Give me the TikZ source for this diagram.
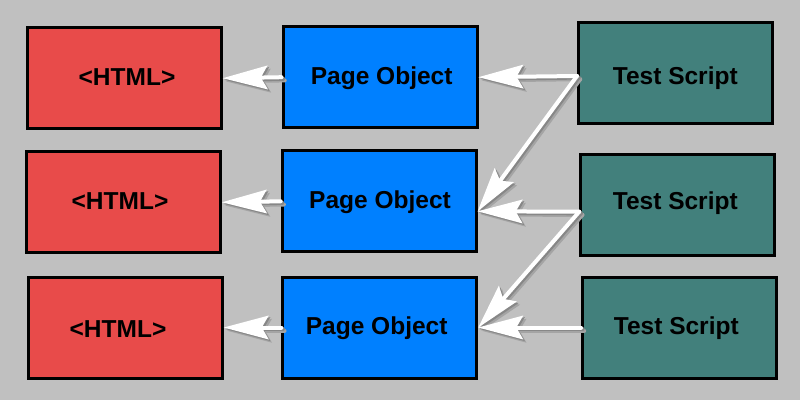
\documentclass[tikz,border=0pt]{standalone}
\usepackage{fontspec}
\setmainfont{Liberation Sans}
\usetikzlibrary{arrows.meta}
\definecolor{bg}{HTML}{C0C0C0}
\definecolor{htmlred}{HTML}{E84B4A}
\definecolor{poblue}{HTML}{0080FF}
\definecolor{tsteal}{HTML}{42807C}
\definecolor{shadowdark}{HTML}{878787}
\definecolor{shadowlight}{HTML}{A4A4A4}
\tikzset{
  box/.style={draw=black, line width=3pt, minimum width=194pt, minimum height=101pt, inner sep=0pt},
  htmlbox/.style={box, fill=htmlred},
  pobox/.style={box, fill=poblue},
  tsbox/.style={box, fill=tsteal},
  txt/.style={font=\fontsize{24.5}{29}\selectfont\bfseries, inner sep=0pt, text height=17.5pt, text depth=0pt},
  tip/.style={-{Stealth[length=45pt,width=24pt,inset=7pt,line width=0pt]}},
  conn/.style={draw=white, line width=4pt, line cap=round, tip},
  shadowA/.style={draw=shadowlight, line width=4pt, line cap=round, tip, transform canvas={shift={(3.2pt,-3.2pt)}}},
  shadowB/.style={draw=shadowdark, line width=4pt, line cap=round, tip, transform canvas={shift={(1.6pt,-1.6pt)}}}
}
\begin{document}
\begin{tikzpicture}[x=1pt, y=-1pt]
\fill[bg] (0,0) rectangle (800,400);
\useasboundingbox (0,0) rectangle (800,400);

% HTML boxes
\node[htmlbox, label={[txt, xshift=2.7pt, yshift=1pt]center:<HTML>}] (h1) at (124.3,78.2) {};
\node[htmlbox, label={[txt, xshift=-3.5pt, yshift=1.8pt]center:<HTML>}] (h2) at (123.5,202.3) {};
\node[htmlbox, label={[txt, xshift=-7.3pt, yshift=-1.3pt]center:<HTML>}] (h3) at (125.3,327.5) {};

% Page Object boxes
\node[pobox, label={[txt, xshift=1.7pt, yshift=1.4pt]center:Page Object}] (b1) at (380,77.2) {};
\node[pobox, label={[txt, xshift=0.8pt, yshift=1.3pt]center:Page Object}] (b2) at (379.2,201.3) {};
\node[pobox, label={[txt, xshift=-3.1pt, yshift=1.3pt]center:Page Object}] (b3) at (379.8,327.5) {};

% Test Script boxes
\node[tsbox, label={[txt, xshift=-0.2pt, yshift=-2pt]center:Test Script}] (t1) at (675.5,73.3) {};
\node[tsbox, label={[txt, xshift=-2.4pt, yshift=4pt]center:Test Script}] (t2) at (677.7,204.5) {};
\node[tsbox, label={[txt, xshift=-3.2pt, yshift=2pt]center:Test Script}] (t3) at (679.5,327.5) {};

% connector ends
\coordinate (s1) at ([yshift=-2.7pt]t1.west);
\coordinate (s2) at ([yshift=-7.2pt]t2.west);
\coordinate (e2) at ([yshift=-10pt]b2.east);

% shadows
\foreach \s/\e in {b1.west/h1.east, b2.west/h2.east, b3.west/h3.east, s1/b1.east, s1/e2, s2/e2, s2/b3.east, t3.west/b3.east}{
  \draw[shadowA] (\s) -- (\e);
}
\foreach \s/\e in {b1.west/h1.east, b2.west/h2.east, b3.west/h3.east, s1/b1.east, s1/e2, s2/e2, s2/b3.east, t3.west/b3.east}{
  \draw[shadowB] (\s) -- (\e);
}
% white arrows
\foreach \s/\e in {b1.west/h1.east, b2.west/h2.east, b3.west/h3.east, s1/b1.east, s1/e2, s2/e2, s2/b3.east, t3.west/b3.east}{
  \draw[conn] (\s) -- (\e);
}
\end{tikzpicture}
\end{document}
